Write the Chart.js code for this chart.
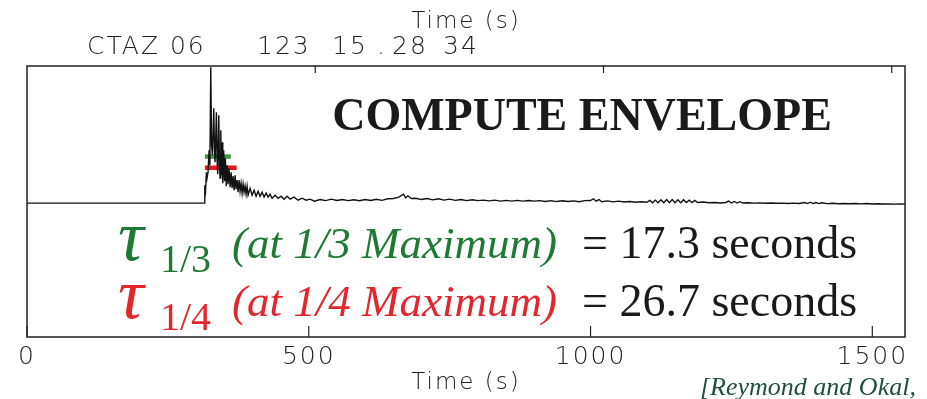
<!DOCTYPE html>
<html>
<head>
<meta charset="utf-8">
<title>Compute envelope</title>
<script src="https://cdn.jsdelivr.net/npm/chart.js@4.4.0/dist/chart.umd.min.js"></script>
<style>
  html, body { margin: 0; padding: 0; background: #fff; }
  #wrap { width: 927px; height: 399px; }
</style>
</head>
<body>
<div id="wrap"><canvas id="chart" width="927" height="399"></canvas></div>
<script>
// --- data (time in s, amplitude normalised to the maximum) ---
const traceTimes = [
  0, 314.2, 315.5, 316.9, 318.3, 319.5, 321.3, 323.1, 324.5, 326.1,
  327.5, 329.0, 331.4, 332.7, 333.7, 336.1, 337.3, 338.4, 340.3, 341.6,
  342.6, 343.9, 345.1, 346.2, 347.4, 349.0, 350.6, 352.0, 353.6, 355.1,
  356.8, 358.6, 360.4, 362.2, 363.9, 365.7, 367.5, 369.3, 371.0, 372.8,
  374.6, 376.4, 378.1, 379.9, 381.7, 383.5, 385.2, 387.0, 388.8, 390.6,
  392.3, 395.9, 399.4, 403.0, 406.5, 410.1, 413.6, 417.2, 420.7, 424.3,
  427.8, 431.4, 434.9, 440.3, 445.6, 450.9, 456.2, 461.6, 466.9, 474.0,
  481.1, 488.2, 495.3, 502.4, 510, 520, 530, 540, 550, 560,
  570, 580, 590, 600, 610, 620, 630, 640, 650, 660,
  668, 672, 676, 682, 690, 700, 710, 720, 730, 740,
  750, 760, 770, 780, 790, 800, 810, 820, 830, 840,
  850, 860, 870, 880, 890, 900, 910, 920, 930, 940,
  950, 960, 970, 980, 990, 1000, 1005, 1010, 1015, 1020,
  1030, 1040, 1050, 1060, 1070, 1080, 1090, 1100, 1105, 1110,
  1115, 1120, 1125, 1130, 1135, 1140, 1145, 1150, 1155, 1160,
  1165, 1170, 1175, 1180, 1185, 1190, 1200, 1210, 1220, 1230,
  1240, 1245, 1250, 1255, 1260, 1265, 1270, 1280, 1290, 1300,
  1310, 1320, 1330, 1340, 1350, 1360, 1370, 1380, 1385, 1390,
  1395, 1400, 1405, 1410, 1420, 1430, 1440, 1450, 1460, 1470,
  1480, 1490, 1500, 1510, 1520, 1530, 1540, 1550, 1558
];
const traceAmps = [
  -0.015, -0.015, 0.119, 0.082, 0.216, 0.172, 0.216, 0.381, 0.269, 1.0,
  0.418, 0.343, 0.694, 0.381, 0.291, 0.664, 0.306, 0.201, 0.642, 0.269,
  0.172, 0.530, 0.194, 0.440, 0.134, 0.381, 0.149, 0.321, 0.112, 0.269,
  0.127, 0.246, 0.104, 0.216, 0.097, 0.187, 0.082, 0.194, 0.090, 0.157,
  0.067, 0.157, 0.075, 0.134, 0.060, 0.127, 0.067, 0.112, 0.052, 0.112,
  0.045, 0.097, 0.045, 0.082, 0.037, 0.075, 0.037, 0.067, 0.030, 0.060,
  0.030, 0.052, 0.022, 0.045, 0.022, 0.037, 0.015, 0.037, 0.015, 0.030,
  0.007, 0.022, 0.007, 0.015, 0.000, 0.012, 0.004, 0.015, 0.005, 0.012,
  0.004, 0.010, 0.003, 0.012, 0.005, 0.014, 0.006, 0.018, 0.020, 0.030,
  0.052, 0.025, 0.040, 0.020, 0.022, 0.012, 0.020, 0.010, 0.018, 0.008,
  0.015, 0.006, 0.012, 0.004, 0.010, 0.004, 0.008, 0.002, 0.008, 0.000,
  0.006, 0.000, 0.006, 0.000, 0.005, 0.000, 0.004, -0.002, 0.004, -0.003,
  0.003, -0.003, 0.002, -0.004, 0.004, 0.005, 0.018, 0.000, 0.012, -0.004,
  0.002, -0.005, 0.000, -0.006, -0.002, -0.008, -0.004, -0.008, 0.006, -0.012,
  0.008, -0.012, 0.010, -0.012, 0.012, -0.012, 0.012, -0.012, 0.010, -0.012,
  0.010, -0.010, 0.008, -0.010, 0.006, -0.010, -0.006, -0.012, -0.010, -0.014,
  -0.010, 0.000, -0.014, -0.002, -0.014, -0.004, -0.014, -0.012, -0.015, -0.013,
  -0.016, -0.014, -0.016, -0.015, -0.017, -0.015, -0.017, -0.010, -0.018, -0.008,
  -0.018, -0.010, -0.018, -0.012, -0.018, -0.016, -0.019, -0.017, -0.019, -0.018,
  -0.020, -0.018, -0.021, -0.019, -0.021, -0.020, -0.022, -0.021, -0.022
];

// duration bars at 1/3 and 1/4 of the maximum
const tauThirdTimes = [315.6, 361.7];
const tauThirdLevel = 1 / 3;
const tauQuarterTimes = [315.6, 372.0];
const tauQuarterLevel = 1 / 4;

const bottomTicks = [0, 500, 1000, 1500];
const topTicks = [500, 1000, 1500];
const headerParts = ['CTAZ 06', '123', '15', '.', '28', '34'];

const GREEN = '#1f7a36';
const RED = '#e3262b';
const sansFont = { family: 'DejaVu Sans', size: 25, weight: '200' };
const titleFont = { family: 'DejaVu Sans', size: 23, weight: '200' };

// the plotting font is wide and airy, so space the sans-serif letters out
const spacing = {
  id: 'spacing',
  beforeDraw(chart) { chart.ctx.letterSpacing = '2px'; }
};

// frame, inward tick marks and the text written on the figure
const annotations = {
  id: 'annotations',
  afterDraw(chart) {
    const ctx = chart.ctx;
    const a = chart.chartArea;
    ctx.save();

    ctx.strokeStyle = '#222';
    ctx.lineWidth = 1.5;
    ctx.strokeRect(a.left, a.top, a.right - a.left, a.bottom - a.top);

    ctx.lineWidth = 1.2;
    ctx.beginPath();
    chart.scales.x.ticks.forEach(t => {
      const px = chart.scales.x.getPixelForValue(t.value);
      ctx.moveTo(px, a.bottom);
      ctx.lineTo(px, a.bottom - 11);
    });
    chart.scales.x2.ticks.forEach(t => {
      const px = chart.scales.x2.getPixelForValue(t.value);
      ctx.moveTo(px, a.top);
      ctx.lineTo(px, a.top + 7);
    });
    ctx.stroke();

    ctx.textBaseline = 'alphabetic';
    ctx.textAlign = 'left';

    // station header above the frame
    ctx.fillStyle = '#222';
    ctx.letterSpacing = '2px';
    ctx.font = '200 25px "DejaVu Sans"';
    const headerX = [87, 257, 332, 377, 392, 443];
    headerParts.forEach((s, i) => ctx.fillText(s, headerX[i], 54));

    ctx.letterSpacing = '0px';
    ctx.fillStyle = '#1a1a1a';
    ctx.font = 'bold 46px "Liberation Serif"';
    ctx.textAlign = 'center';
    ctx.fillText('COMPUTE ENVELOPE', 582, 130);

    ctx.textAlign = 'left';
    const rows = [
      { y: 258, color: GREEN, sub: '1/3', label: '(at 1/3 Maximum)', value: '= 17.3 seconds' },
      { y: 316, color: RED, sub: '1/4', label: '(at 1/4 Maximum)', value: '= 26.7 seconds' }
    ];
    rows.forEach(r => {
      ctx.fillStyle = r.color;
      ctx.font = 'italic 72px "Liberation Serif"';
      ctx.fillText('\u03C4', 118, r.y + 2);
      ctx.font = '40px "Liberation Serif"';
      ctx.fillText(r.sub, 160, r.y + 14);
      ctx.font = 'italic 45px "Liberation Serif"';
      ctx.fillText(r.label, 232, r.y);
      ctx.fillStyle = '#1a1a1a';
      ctx.font = '46px "Liberation Serif"';
      ctx.fillText(r.value, 582, r.y);
    });

    ctx.fillStyle = '#1f4f3c';
    ctx.font = 'italic 26px "Liberation Serif"';
    ctx.fillText('[Reymond and Okal,', 700, 395);
    ctx.restore();
    ctx.letterSpacing = '0px';
  }
};

const lineStyle = { pointRadius: 0, tension: 0, fill: false };

new Chart(document.getElementById('chart'), {
  type: 'line',
  data: {
    datasets: [
      {
        ...lineStyle,
        label: 'envelope',
        data: traceTimes.map((t, i) => ({ x: t, y: traceAmps[i] })),
        borderColor: '#111',
        borderWidth: 1.4,
        order: 0
      },
      {
        ...lineStyle,
        label: 'tau 1/3',
        data: tauThirdTimes.map(t => ({ x: t, y: tauThirdLevel })),
        borderColor: '#3d9b45',
        borderWidth: 4.5,
        order: 1
      },
      {
        ...lineStyle,
        label: 'tau 1/4',
        data: tauQuarterTimes.map(t => ({ x: t, y: tauQuarterLevel })),
        borderColor: '#e8161f',
        borderWidth: 4.5,
        order: 1
      }
    ]
  },
  options: {
    responsive: false,
    animation: false,
    devicePixelRatio: 1,
    layout: { padding: { left: 27, right: 22, top: 0, bottom: 0 } },
    plugins: { legend: { display: false }, tooltip: { enabled: false } },
    scales: {
      x: {
        type: 'linear',
        position: 'bottom',
        min: 0,
        max: 1558,
        afterBuildTicks: s => { s.ticks = bottomTicks.map(v => ({ value: v })); },
        afterFit: s => { s.height = 62; },
        grid: { display: false, tickLength: 0 },
        border: { display: false },
        ticks: { color: '#222', font: sansFont, padding: 5, maxRotation: 0, callback: v => String(v) },
        title: {
          display: true, text: 'Time (s)', color: '#222',
          font: titleFont, padding: { top: 0, bottom: 2 }
        }
      },
      x2: {
        type: 'linear',
        position: 'top',
        min: 0,
        max: 1523,
        afterBuildTicks: s => { s.ticks = topTicks.map(v => ({ value: v })); },
        afterFit: s => { s.height = 66; },
        grid: { display: false, tickLength: 0 },
        border: { display: false },
        ticks: { callback: () => '' },
        title: {
          display: true, text: 'Time (s)', color: '#222',
          font: titleFont, padding: { top: 8, bottom: 0 }
        }
      },
      y: {
        display: false,
        min: -1.015,
        max: 1.01
      }
    }
  },
  plugins: [spacing, annotations]
});
</script>
</body>
</html>
